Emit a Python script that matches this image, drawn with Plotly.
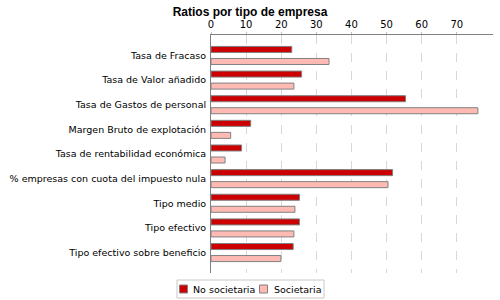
import plotly.graph_objects as go

categories = [
    "Tasa de Fracaso",
    "Tasa de Valor añadido",
    "Tasa de Gastos de personal",
    "Margen Bruto de explotación",
    "Tasa de rentabilidad económica",
    "% empresas con cuota del impuesto nula",
    "Tipo medio",
    "Tipo efectivo",
    "Tipo efectivo sobre beneficio",
]
no_societaria = [23.0, 25.8, 55.4, 11.3, 8.7, 51.7, 25.2, 25.2, 23.4]
societaria = [33.6, 23.6, 76.0, 5.6, 4.0, 50.4, 23.9, 23.6, 19.9]
series_names = ["No societaria", "Societaria"]
x_ticks = [0, 10, 20, 30, 40, 50, 60, 70]

RED = "#CC0000"
PINK = "#FFBBB3"
EDGE = "#808080"

W, H = 500, 300
L, R, T, B = 211, 7, 35, 27
PW, PH = W - L - R, H - T - B


def px_x(px):
    return (px - L) / PW


def px_y(py):
    return (H - B - py) / PH


fig = go.Figure()
fig.add_trace(go.Bar(
    y=categories, x=no_societaria, orientation="h", name=series_names[0],
    marker=dict(color=RED, line=dict(color=EDGE, width=1)),
))
fig.add_trace(go.Bar(
    y=categories, x=societaria, orientation="h", name=series_names[1],
    marker=dict(color=PINK, line=dict(color=EDGE, width=1)),
))

# custom compact legend (box, swatches, labels)
shapes = [
    dict(type="rect", xref="paper", yref="paper",
         x0=px_x(177), x1=px_x(324), y0=px_y(280), y1=px_y(298),
         line=dict(color="#C8C8C8", width=1), fillcolor="white", layer="above"),
    dict(type="rect", xref="paper", yref="paper",
         x0=px_x(179.5), x1=px_x(187.5), y0=px_y(285), y1=px_y(293),
         line=dict(color=EDGE, width=1), fillcolor=RED, layer="above"),
    dict(type="rect", xref="paper", yref="paper",
         x0=px_x(259.5), x1=px_x(267.5), y0=px_y(285), y1=px_y(293),
         line=dict(color=EDGE, width=1), fillcolor=PINK, layer="above"),
]
annotations = [
    dict(xref="paper", yref="paper", x=px_x(191), y=px_y(289),
         text=series_names[0], showarrow=False, xanchor="left", yanchor="middle",
         font=dict(family="DejaVu Sans, sans-serif", size=9.5, color="black")),
    dict(xref="paper", yref="paper", x=px_x(271.5), y=px_y(289),
         text=series_names[1], showarrow=False, xanchor="left", yanchor="middle",
         font=dict(family="DejaVu Sans, sans-serif", size=9.5, color="black")),
]

fig.update_layout(
    width=W, height=H,
    margin=dict(l=L, r=R, t=T, b=B, autoexpand=False),
    paper_bgcolor="white", plot_bgcolor="white",
    barmode="group", bargap=0.024, bargroupgap=0.5,
    title=dict(text="<b>Ratios por tipo de empresa</b>", x=0.5, xanchor="center",
               xref="container", y=0.975, yanchor="top",
               font=dict(family="Liberation Sans, Arial, sans-serif", size=12, color="black")),
    font=dict(family="DejaVu Sans, sans-serif", size=9, color="black"),
    showlegend=False,
    shapes=shapes,
    annotations=annotations,
)
fig.update_xaxes(
    side="top", range=[0, 80.3], tickvals=x_ticks,
    showgrid=True, gridcolor="#D8D8D8", griddash="dash", gridwidth=1,
    showline=True, linecolor=EDGE, linewidth=1,
    ticks="outside", ticklen=2, tickcolor="#C0C0C0",
    zeroline=False,
    tickfont=dict(family="DejaVu Sans, sans-serif", size=10),
)
fig.update_yaxes(
    autorange=False, range=[8.83, -0.83],
    categoryorder="array", categoryarray=categories,
    showline=True, linecolor=EDGE, linewidth=1,
    ticks="outside", ticklen=2, tickcolor="rgba(0,0,0,0)", showgrid=False,
    tickfont=dict(family="DejaVu Sans, sans-serif", size=9.5),
)
fig.write_html(
    "out.html",
    config={"displayModeBar": False},
    post_script="document.body.style.margin='0';document.body.style.padding='0';",
)
